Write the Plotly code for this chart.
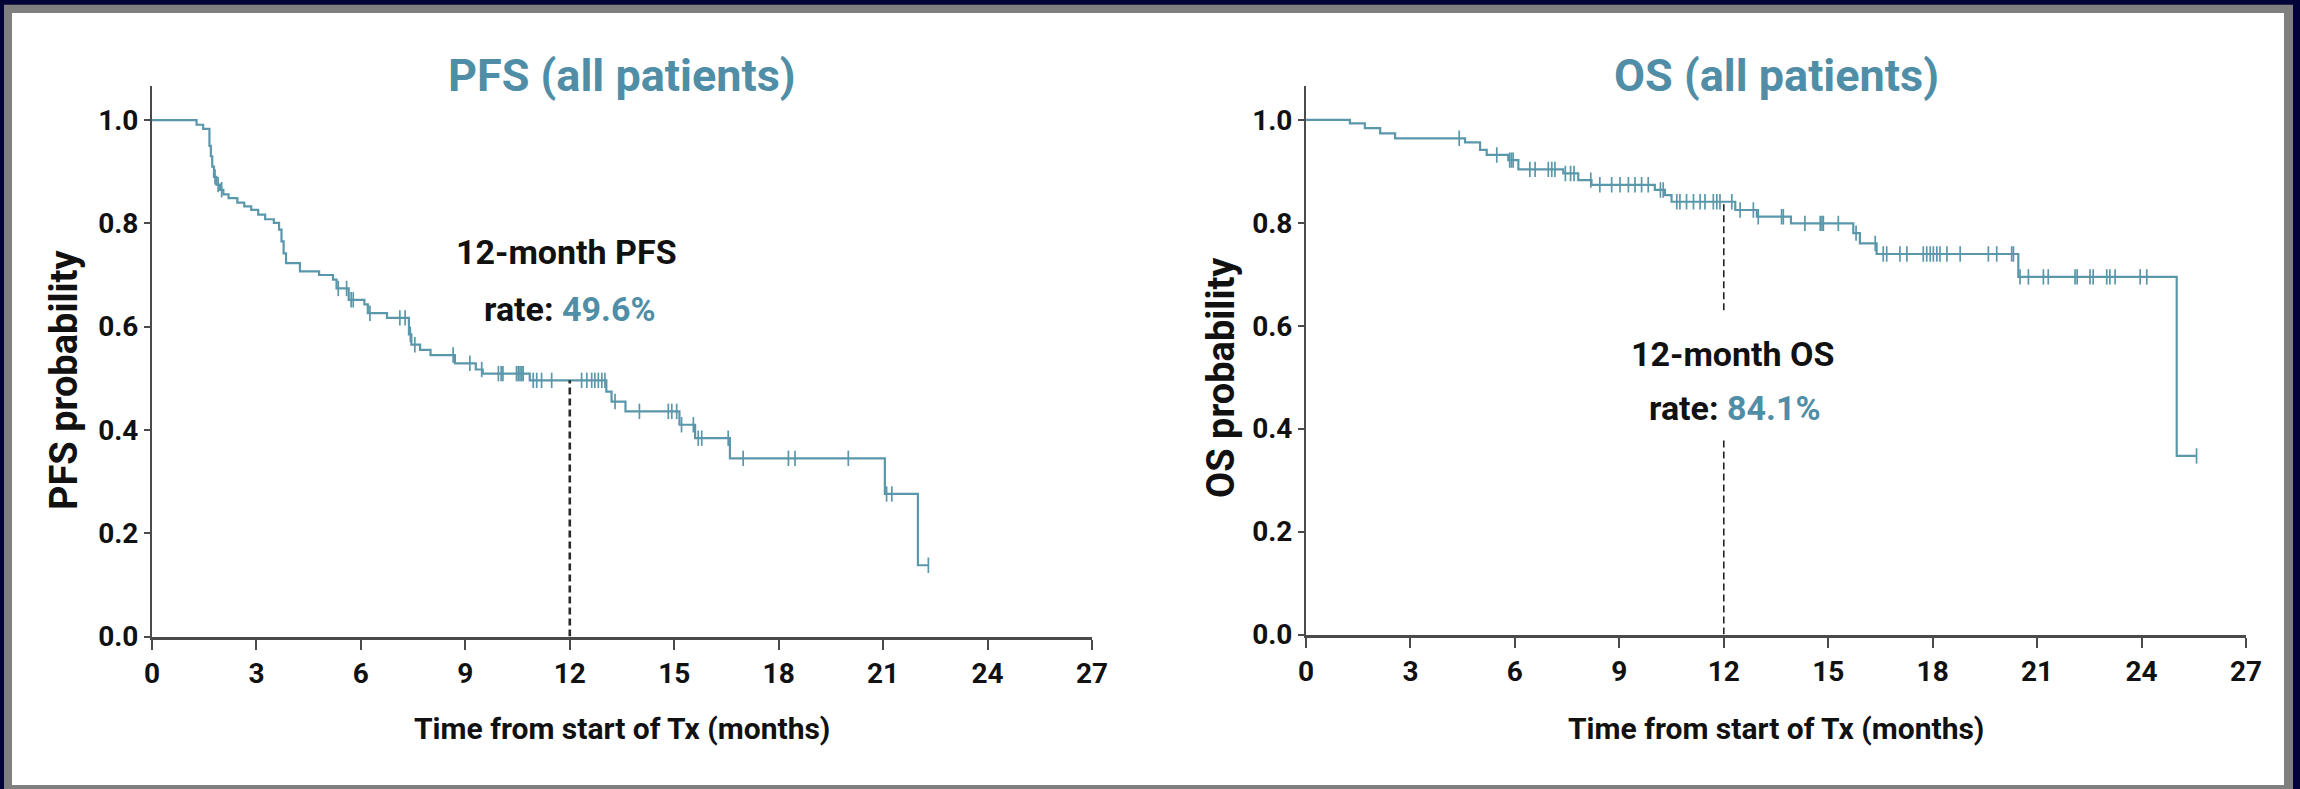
import numpy as np
import plotly.graph_objects as go

# ---------------- data ----------------
months_ticks = [0, 3, 6, 9, 12, 15, 18, 21, 24, 27]
prob_ticks = [0.0, 0.2, 0.4, 0.6, 0.8, 1.0]

# PFS Kaplan-Meier step function (time of step, survival after step)
pfs_time = [0, 1.28, 1.47, 1.65, 1.69, 1.73, 1.78, 1.85, 1.95, 2.05, 2.2, 2.45, 2.65, 2.85,
            3.05, 3.25, 3.5, 3.65, 3.72, 3.78, 3.85, 4.25, 4.8, 5.2, 5.3, 5.65, 6.1, 6.2,
            6.75, 7.38, 7.45, 7.7, 8.0, 8.7, 9.3, 9.5, 10.85, 13.05, 13.2, 13.6, 15.15,
            15.6, 16.6, 21.05, 22.0]
pfs_surv = [1.0, 0.991, 0.983, 0.95, 0.93, 0.91, 0.89, 0.875, 0.865, 0.856, 0.849, 0.84,
            0.833, 0.826, 0.817, 0.808, 0.801, 0.788, 0.765, 0.742, 0.723, 0.707, 0.700,
            0.691, 0.674, 0.652, 0.643, 0.626, 0.617, 0.585, 0.565, 0.555, 0.545, 0.529,
            0.517, 0.509, 0.496, 0.474, 0.455, 0.436, 0.410, 0.384, 0.345, 0.276, 0.138]
pfs_end = 22.3
pfs_censor = [1.81, 1.9, 2.0, 5.35, 5.59, 5.72, 5.78, 6.26, 7.12, 7.27, 7.42, 7.55, 8.65,
              9.13, 9.47, 9.95, 10.03, 10.08, 10.47, 10.52, 10.57, 10.62, 10.66, 10.95,
              11.05, 11.19, 11.48, 12.34, 12.49, 12.63, 12.72, 12.82, 12.92, 13.01, 13.3,
              14.0, 14.83, 14.93, 15.07, 15.21, 15.55, 15.69, 15.79, 16.55, 16.98, 18.28,
              18.47, 20.0, 21.1, 21.25, 22.3]
pfs_rate_12 = 0.496

# OS Kaplan-Meier step function
os_time = [0, 1.26, 1.69, 2.13, 2.56, 4.57, 5.0, 5.19, 5.81, 6.1, 7.39, 7.82, 8.2, 10.02,
           10.31, 10.5, 12.33, 12.95, 13.93, 15.72, 15.91, 16.39, 20.46, 25.01]
os_surv = [1.0, 0.9935, 0.984, 0.974, 0.9644, 0.9566, 0.942, 0.932, 0.922, 0.904, 0.896,
           0.883, 0.874, 0.864, 0.854, 0.841, 0.825, 0.812, 0.799, 0.780, 0.760, 0.7395,
           0.695, 0.347]
os_end = 25.58
os_censor = [4.40, 5.48, 5.85, 5.9, 5.95, 6.43, 6.58, 6.96, 7.06, 7.15, 7.45, 7.6, 7.7,
             8.18, 8.44, 8.78, 9.02, 9.26, 9.45, 9.64, 9.83, 10.18, 10.26, 10.65, 10.74,
             10.93, 11.13, 11.32, 11.46, 11.70, 11.80, 11.89, 12.23, 12.47, 12.85, 12.99,
             13.66, 13.71, 14.33, 14.77, 14.82, 14.86, 15.29, 15.8, 16.35, 16.58, 16.68,
             17.06, 17.26, 17.73, 17.83, 17.93, 18.02, 18.12, 18.21, 18.41, 18.79, 19.60,
             19.84, 20.27, 20.32, 20.51, 20.75, 21.18, 21.32, 22.09, 22.15, 22.52, 22.61,
             23.0, 23.09, 23.24, 23.96, 24.15, 25.58]
os_rate_12 = 0.841

# ---------------- style ----------------
W, H = 2300, 789
FONT = "Roboto, Liberation Sans, sans-serif"
TEAL = "#4f8ea6"
CURVE = "#5a97ab"
AXIS = "#4a4a4a"
INK = "#111111"
NAVY = "#03033a"
GRAY = "#7f7f7f"


def px_x(p):
    return p / W


def px_y(p):
    return 1 - p / H


def step_value(times, surv, t):
    idx = np.searchsorted(np.asarray(times), np.asarray(t), side="right") - 1
    return np.asarray(surv)[idx]


fig = go.Figure()


def add_km(times, surv, end, censor, xa, ya):
    xs = list(times) + [end]
    ys = list(surv) + [surv[-1]]
    fig.add_trace(go.Scatter(x=xs, y=ys, mode="lines", line=dict(color=CURVE, width=2.2, shape="hv"),
                             xaxis=xa, yaxis=ya, showlegend=False, hoverinfo="skip"))
    cy = step_value(times, surv, censor)
    fig.add_trace(go.Scatter(x=censor, y=cy, mode="markers",
                             marker=dict(symbol="line-ns", size=11, color=CURVE,
                                         line=dict(color=CURVE, width=1.7)),
                             xaxis=xa, yaxis=ya, showlegend=False, hoverinfo="skip"))


add_km(pfs_time, pfs_surv, pfs_end, pfs_censor, "x", "y")
add_km(os_time, os_surv, os_end, os_censor, "x2", "y2")

# 12-month reference lines
fig.add_trace(go.Scatter(x=[12, 12], y=[0, pfs_rate_12], mode="lines",
                         line=dict(color="#2a2a2a", width=2.6, dash="7px,4px"),
                         xaxis="x", yaxis="y", showlegend=False, hoverinfo="skip"))
os_gap = (0.378, 0.63)
fig.add_trace(go.Scatter(x=[12, 12, None, 12, 12], y=[0, os_gap[0], None, os_gap[1], os_rate_12],
                         mode="lines", line=dict(color="#222222", width=1.6, dash="7px,4px"),
                         xaxis="x2", yaxis="y2", showlegend=False, hoverinfo="skip"))

# panels
y_top = 1.066
pfs_dom_x = [px_x(152), px_x(1092)]
pfs_dom_y = [px_y(636.5), px_y(86)]
os_dom_x = [px_x(1306), px_x(2246)]
os_dom_y = [px_y(634.5), px_y(86)]

tickfont = dict(family=FONT, size=28, color=INK, weight=700)
xcommon = dict(range=[0, 27], tickvals=months_ticks, ticktext=[str(v) for v in months_ticks],
               showline=True, linecolor=AXIS, linewidth=3, ticks="outside", ticklen=10,
               tickwidth=1.5, tickcolor=AXIS, showgrid=False, zeroline=False,
               tickfont=tickfont, automargin=False, fixedrange=True)
ycommon = dict(range=[0, y_top], tickvals=prob_ticks, ticktext=[f"{v:.1f}" for v in prob_ticks],
               showline=True, linecolor=AXIS, linewidth=2, ticks="outside", ticklen=6,
               tickwidth=1.5, tickcolor=AXIS, showgrid=False, zeroline=False,
               tickfont=tickfont, automargin=False, fixedrange=True)

fig.update_layout(
    width=W, height=H,
    margin=dict(l=0, r=0, t=0, b=0),
    paper_bgcolor=NAVY, plot_bgcolor="rgba(0,0,0,0)",
    xaxis=dict(domain=pfs_dom_x, anchor="y", **xcommon),
    yaxis=dict(domain=pfs_dom_y, anchor="x", **ycommon),
    xaxis2=dict(domain=os_dom_x, anchor="y2", **xcommon),
    yaxis2=dict(domain=os_dom_y, anchor="x2", **ycommon),
    shapes=[
        dict(type="rect", xref="paper", yref="paper", x0=px_x(4), x1=px_x(2293),
             y0=0, y1=px_y(4.7), fillcolor=GRAY, line=dict(width=0), layer="below"),
        dict(type="rect", xref="paper", yref="paper", x0=px_x(12), x1=px_x(2284),
             y0=px_y(785), y1=px_y(13), fillcolor="white", line=dict(width=0), layer="below"),
    ],
)


def text(x, y, s, size, color=INK, rot=0):
    fig.add_annotation(x=px_x(x), y=px_y(y), xref="paper", yref="paper", text=s, showarrow=False,
                       xanchor="center", yanchor="middle", textangle=rot,
                       font=dict(family=FONT, size=size, color=color, weight=700))


# panel titles
text(622, 76, "PFS (all patients)", 45, TEAL)
text(1776, 76, "OS (all patients)", 45, TEAL)
# axis titles
text(622, 728, "Time from start of Tx (months)", 30)
text(1776, 728, "Time from start of Tx (months)", 30)
text(64, 380, "PFS probability", 38, rot=-90)
text(1221, 378, "OS probability", 38, rot=-90)
# 12-month rate callouts
text(566, 252, "12-month PFS", 34)
text(570, 309, f"rate: <span style='color:{TEAL}'>{pfs_rate_12 * 100:.1f}%</span>", 34)
text(1733, 354, "12-month OS", 34)
text(1735, 408, f"rate: <span style='color:{TEAL}'>{os_rate_12 * 100:.1f}%</span>", 34)

fig.write_html("out.html")
